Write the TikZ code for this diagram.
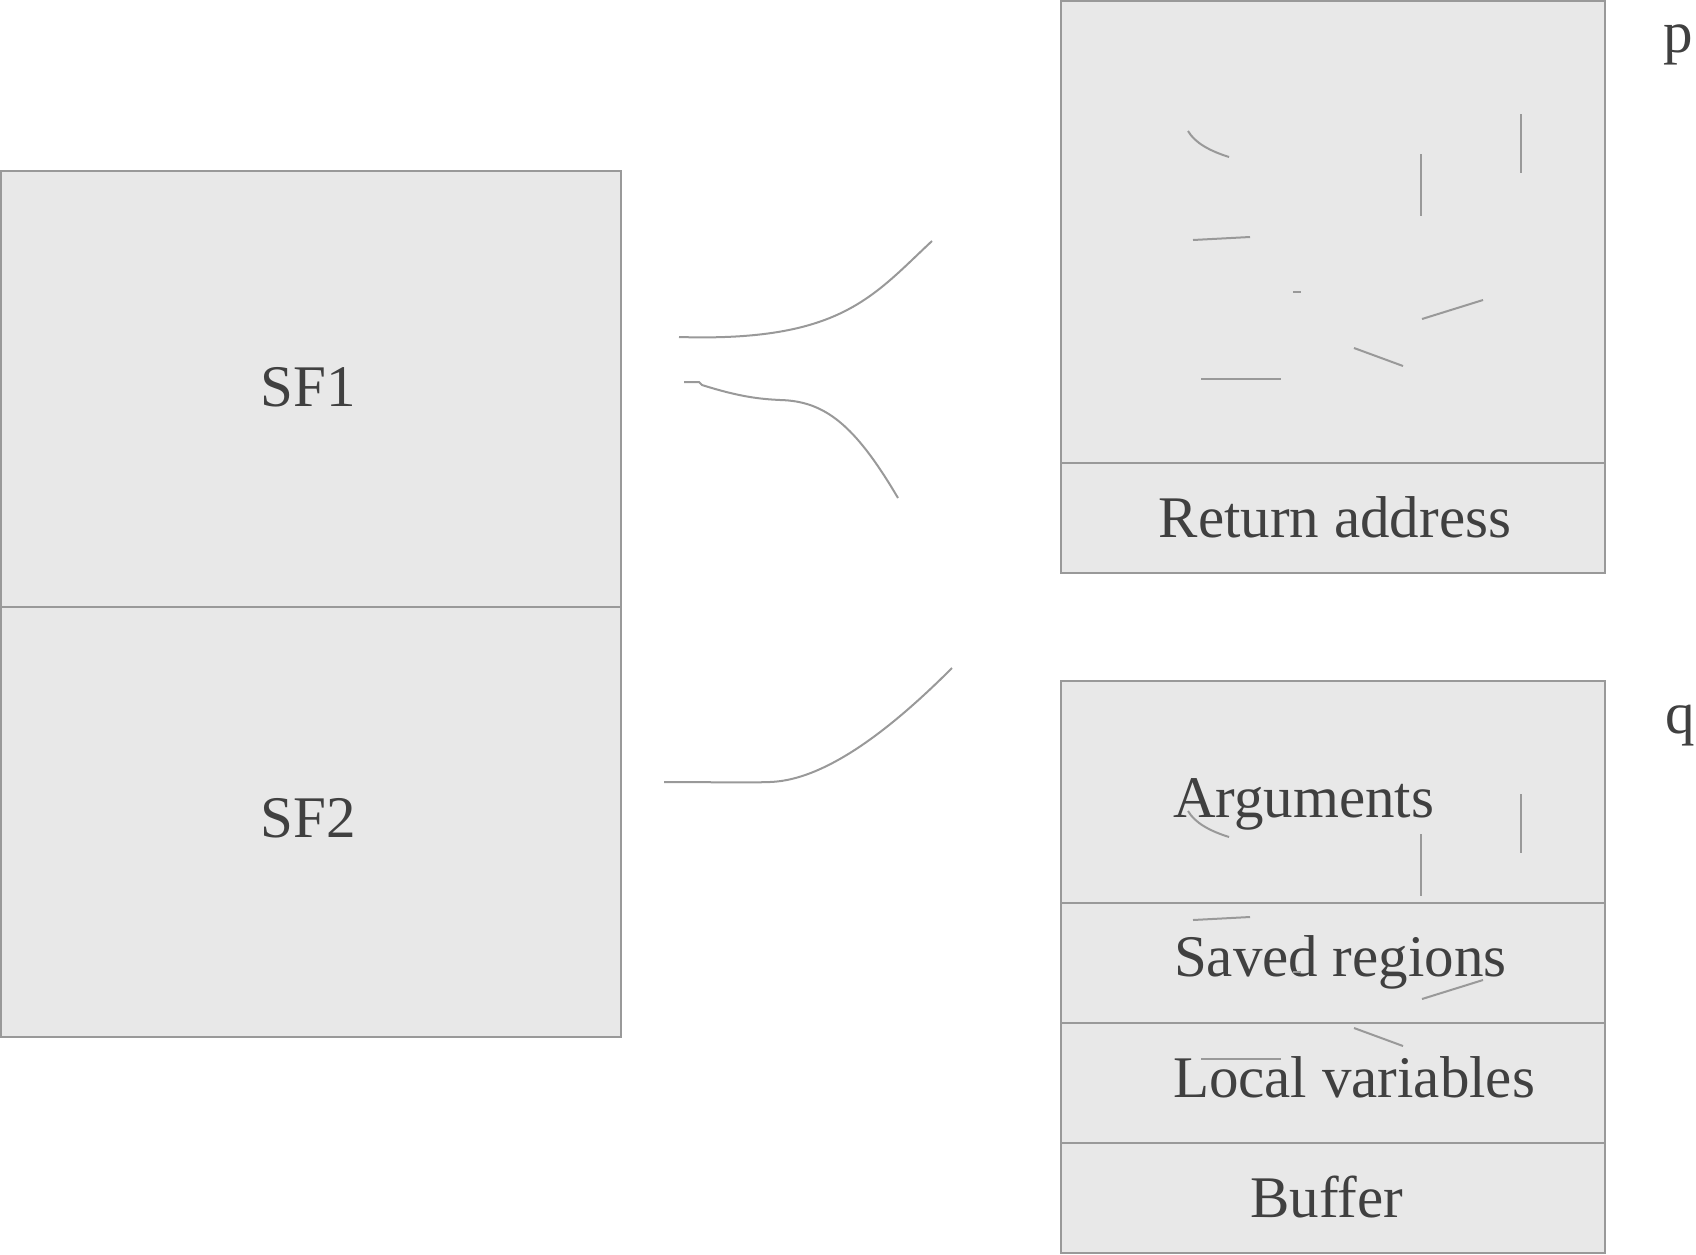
\documentclass[tikz,border=0pt]{standalone}
\usepackage{fontspec}
\setmainfont{Liberation Serif}
\definecolor{boxfill}{HTML}{E8E8E8}
\definecolor{linegray}{HTML}{999999}
\definecolor{textgray}{HTML}{404040}
\begin{document}
\begin{tikzpicture}[x=1pt,y=-1pt,
  cell/.style={draw=linegray, fill=boxfill, line width=2pt, inner sep=0pt, outer sep=0pt, anchor=north west, rectangle},
  lbl/.style={text=textgray, font=\fontsize{59}{70}\selectfont, inner sep=0pt, outer sep=0pt},
  wire/.style={draw=linegray, line width=2pt},
  scribble/.style={draw=linegray, line width=2pt}]
\useasboundingbox (0,0) rectangle (1696,1254);

% left stack
\node[cell, minimum width=620pt, minimum height=436pt] (sf1) at (1,171) {};
\node[cell, minimum width=620pt, minimum height=430pt] (sf2) at (1,607) {};
\node[lbl, anchor=base] (sf1t) at (308,406) {SF1};
\node[lbl, anchor=base] (sf2t) at (308,837) {SF2};

% right stack p
\node[cell, minimum width=544pt, minimum height=462pt] (ptop) at (1061,1) {};
\node[cell, minimum width=544pt, minimum height=110pt] (pret) at (1061,463) {};
\node[lbl, anchor=base] (prett) at (1335,537) {Return address};

% right stack q
\node[cell, minimum width=544pt, minimum height=222pt] (qarg) at (1061,681) {};
\node[cell, minimum width=544pt, minimum height=120pt] (qsav) at (1061,903) {};
\node[cell, minimum width=544pt, minimum height=120pt] (qloc) at (1061,1023) {};
\node[cell, minimum width=544pt, minimum height=110pt] (qbuf) at (1061,1143) {};
\node[lbl, anchor=base west] (qargt) at (1173,817) {Arguments};
\node[lbl, anchor=base west] (qsavt) at (1174,976) {Saved regions};
\node[lbl, anchor=base west] (qloct) at (1173,1097) {Local variables};
\node[lbl, anchor=base] (qbuft) at (1327,1217) {Buffer};

% side labels
\node[lbl, anchor=base west] (plab) at (1663,52) {p};
\node[lbl, anchor=base west] (qlab) at (1665,733) {q};

% connectors
\coordinate (a1) at (679,337);
\coordinate (a3) at (932,241);
\draw[wire] (a1) .. controls (840,342) and (872,297) .. (a3);

\coordinate (b0) at (684,382);
\coordinate (b1) at (699,382);
\coordinate (b2) at (702,385);
\coordinate (bm) at (780,400);
\coordinate (b3) at (898,498);
\draw[wire] (b0) -- (b1) -- (b2) .. controls (740,397) and (760,399) .. (bm) .. controls (825,401) and (855,425) .. (b3);

\coordinate (c1) at (664,782);
\coordinate (c2) at (770,782);
\coordinate (c3) at (952,668);
\draw[wire] (c1) .. controls (720,782) and (740,783) .. (c2) .. controls (830,780) and (900,720) .. (c3);

% stray strokes (top box and the same strokes shifted down)
\foreach \dy in {0,680} {
  \begin{scope}[yshift=-\dy pt]
    \draw[scribble] (1188,131) .. controls (1195,143) and (1210,151) .. (1229,157);
    \draw[scribble] (1421,154) -- (1421,216);
    \draw[scribble] (1521,114) -- (1521,173);
    \draw[scribble] (1193,240) -- (1250,237);
    \draw[scribble] (1293,292) -- (1301,292);
    \draw[scribble] (1422,319) -- (1483,300);
    \draw[scribble] (1354,348) -- (1403,366);
    \draw[scribble] (1201,379) -- (1281,379);
  \end{scope}
}
\end{tikzpicture}
\end{document}
